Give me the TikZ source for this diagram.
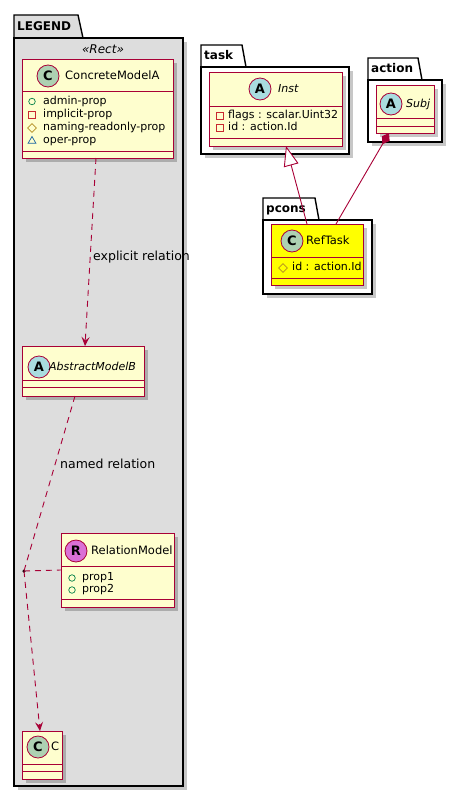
\documentclass[tikz,border=0pt]{standalone}
\usepackage{fontspec}
\setmainfont{DejaVu Sans}
\usetikzlibrary{arrows.meta,shadows,shapes.geometric}
\definecolor{umlborder}{HTML}{A80036}
\definecolor{umlfill}{HTML}{FEFECE}
\definecolor{legendgray}{HTML}{DDDDDD}
\definecolor{spotC}{HTML}{ADD1B2}
\definecolor{spotA}{HTML}{A9DCDF}
\definecolor{spotR}{HTML}{DA70D6}
\definecolor{colpub}{HTML}{038048}
\definecolor{colpriv}{HTML}{C82930}
\definecolor{colprot}{HTML}{B38D22}
\definecolor{colpkg}{HTML}{1963A0}
\definecolor{reftaskfill}{HTML}{FFFF00}
\tikzset{
  classbox/.style={draw=umlborder,fill=umlfill,line width=1pt,inner sep=0pt,outer sep=0pt,anchor=north west,
    drop shadow={shadow xshift=4pt,shadow yshift=-4pt,fill=black,opacity=.22}},
  sepline/.style={draw=umlborder,line width=1pt},
  spot/.style={circle,draw=umlborder,line width=.8pt,minimum size=22pt,inner sep=0pt,
    font=\bfseries\fontsize{13}{13}\selectfont},
  cname/.style={anchor=west,inner sep=0pt,text height=8.5pt,text depth=2.5pt,font=\fontsize{11.5}{13}\selectfont},
  iname/.style={cname,font=\itshape\fontsize{11}{13}\selectfont},
  attr/.style={anchor=west,inner sep=0pt,text height=8pt,text depth=2.5pt,font=\fontsize{11}{13}\selectfont},
  pkgname/.style={anchor=west,inner sep=0pt,text height=9pt,text depth=2.5pt,font=\bfseries\fontsize{12}{13}\selectfont},
  pkgline/.style={draw=black,line width=1.4pt},
  pkgshadow/.style={fill=black,opacity=.22},
  rel/.style={draw=umlborder,line width=.9pt},
  reldash/.style={rel,dash pattern=on 6pt off 5pt},
  lbl/.style={anchor=west,inner sep=0pt,text height=9pt,text depth=2.5pt,font=\fontsize{12.5}{14}\selectfont},
  vispub/.style={circle,draw=colpub,line width=.7pt,minimum size=6.5pt,inner sep=0pt},
  vispriv/.style={rectangle,draw=colpriv,line width=.7pt,minimum size=6.5pt,inner sep=0pt},
  visprot/.style={diamond,draw=colprot,line width=.7pt,minimum size=9pt,inner sep=0pt},
  vispkg/.style={regular polygon,regular polygon sides=3,draw=colpkg,line width=.7pt,minimum size=9pt,inner sep=0pt},
}
\begin{document}
\begin{tikzpicture}[x=1pt,y=-1pt]
  \useasboundingbox (0,0) rectangle (463,798);

  % LEGEND package
  \fill[pkgshadow] (18,42) rectangle (187,790);
  \draw[pkgline,fill=legendgray] (14,38) -- (14,15) -- (78,15) -- (83,38);
  \draw[pkgline,fill=legendgray] (14,38) rectangle (183,786);
  \node[pkgname] (legendname) at (17,27) {LEGEND};
  \node[inner sep=0pt,font=\itshape\fontsize{12}{13}\selectfont] (stereo) at (103,49) {«Rect»};

  % ConcreteModelA
  \node[classbox,minimum width=151pt,minimum height=99pt] (concA) at (22,59) {};
  \foreach \y in {91,151} \draw[sepline] (22,\y) -- (173,\y);
  \node[spot,fill=spotC] (concAspot) at (48,76) {C};
  \node[cname] (concAname) at (65,76) {ConcreteModelA};
  \foreach \y/\vis/\txt in {101.5/vispub/admin-prop,115/vispriv/implicit-prop,
                            128/visprot/naming-readonly-prop,141/vispkg/oper-prop}{
    \node[\vis] (concA-\vis) at (32,\y) {};
    \node[attr] (concA-\txt) at (43,\y) {\txt};
  }

  % AbstractModelB
  \node[classbox,minimum width=122pt,minimum height=50pt] (absB) at (22,346) {};
  \foreach \y in {380,387} \draw[sepline] (22,\y) -- (144,\y);
  \node[spot,fill=spotA] (absBspot) at (39,367) {A};
  \node[iname] (absBname) at (49,367) {AbstractModelB};

  % RelationModel
  \node[classbox,minimum width=113pt,minimum height=74pt] (relModel) at (61,533) {};
  \foreach \y in {566,599} \draw[sepline] (61,\y) -- (174,\y);
  \node[spot,fill=spotR] (relModelspot) at (76,551) {R};
  \node[cname] (relModelname) at (91,551) {RelationModel};
  \foreach \y/\txt in {578/prop1,590/prop2}{
    \node[vispub] (relModel-\txt-vis) at (72,\y) {};
    \node[attr] (relModel-\txt) at (82,\y) {\txt};
  }

  % C
  \node[classbox,minimum width=40pt,minimum height=48pt] (cbox) at (22,731) {};
  \foreach \y in {764,771} \draw[sepline] (22,\y) -- (62,\y);
  \node[spot,fill=spotC] (cboxspot) at (38,747) {C};
  \node[cname] (cboxname) at (51,747) {C};

  % legend relations
  \draw[reldash,-{Stealth[length=9pt,width=8pt,inset=3.5pt]}] ([xshift=-1.5pt]concA.south) -- ([xshift=2pt]absB.north);
  \node[lbl] (explicitlbl) at (93,257) {explicit relation};
  \node[circle,fill=black,inner sep=0pt,minimum size=3.5pt] (assoc) at (24,571) {};
  \draw[reldash] ([xshift=-8pt]absB.south) -- (assoc.center);
  \draw[reldash,-{Stealth[length=9pt,width=8pt,inset=3.5pt]}] (assoc.center) -- ([xshift=-2pt]cbox.north);
  \draw[reldash] (assoc.center) -- (relModel.west);
  \node[lbl] (namedlbl) at (60,465) {named relation};

  % task package
  \fill[pkgshadow] (205,71) rectangle (353,158);
  \draw[pkgline,fill=white] (201,67) -- (201,45) -- (242,45) -- (246,67);
  \draw[pkgline,fill=white] (201,67) rectangle (349,154);
  \node[pkgname] (taskname) at (204,56) {task};
  \node[classbox,minimum width=133pt,minimum height=74pt] (inst) at (209,72) {};
  \foreach \y in {106,138} \draw[sepline] (209,\y) -- (342,\y);
  \node[spot,fill=spotA] (instspot) at (260,89) {A};
  \node[iname] (instname) at (278,89) {Inst};
  \node[vispriv] (inst-flags-vis) at (220,116) {};
  \node[attr] (inst-flags) at (228,116) {flags : scalar.Uint32};
  \node[vispriv] (inst-id-vis) at (220,128) {};
  \node[attr] (inst-id) at (228,128) {id : action.Id};

  % action package
  \fill[pkgshadow] (372,84) rectangle (446,146);
  \draw[pkgline,fill=white] (368,80) -- (368,58) -- (418,58) -- (422,80);
  \draw[pkgline,fill=white] (368,80) rectangle (442,142);
  \node[pkgname] (actionname) at (371,69) {action};
  \node[classbox,minimum width=58pt,minimum height=48pt] (subj) at (376,85) {};
  \foreach \y in {118,126} \draw[sepline] (376,\y) -- (434,\y);
  \node[spot,fill=spotA] (subjspot) at (391,104) {A};
  \node[iname] (subjname) at (406,104) {Subj};

  % pcons package
  \fill[pkgshadow] (267,224) rectangle (376,298);
  \draw[pkgline,fill=white] (263,220) -- (263,198) -- (315,198) -- (319,220);
  \draw[pkgline,fill=white] (263,220) rectangle (372,294);
  \node[pkgname] (pconsname) at (266,209) {pcons};
  \node[classbox,fill=reftaskfill,minimum width=92pt,minimum height=61pt] (refTask) at (271,224) {};
  \foreach \y in {257,278} \draw[sepline] (271,\y) -- (363,\y);
  \node[spot,fill=spotC] (refTaskspot) at (292,241) {C};
  \node[cname] (refTaskname) at (306,241) {RefTask};
  \node[visprot] (refTask-id-vis) at (283,268) {};
  \node[attr] (refTask-id) at (292,268) {id : action.Id};

  % relations
  \draw[rel,-{Triangle[open,fill=white,length=20pt,width=15pt]}] ([xshift=-10pt]refTask.north) -- ([xshift=10.5pt]inst.south);
  \draw[rel,-{Diamond[length=13pt,width=9pt,fill=umlborder]}] ([xshift=19pt]refTask.north) -- ([xshift=-16pt]subj.south);
\end{tikzpicture}
\end{document}
